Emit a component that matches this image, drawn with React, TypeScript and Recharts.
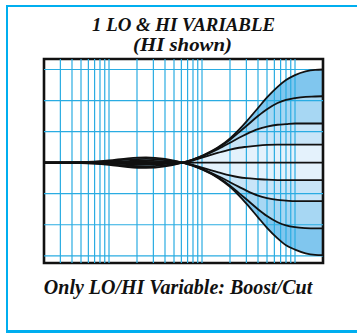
import React from 'react';
import { ComposedChart, Area, Line, XAxis, YAxis, ReferenceLine, ReferenceArea } from 'recharts';

// frequency points (Hz) the curves were read at
const FREQS = [20, 50, 100, 160, 250, 400, 620, 1000, 1500, 2000, 2500, 3000, 4000, 5000, 6500, 8000, 10000, 13000, 16500, 20000];

// response in dB for each knob position
const BOOST_15 = [0, -0.06, -0.35, -0.7, -0.85, -0.6, 0, 1.1, 2.5, 3.9, 5.3, 6.6, 8.8, 10.5, 12.2, 13.3, 14.1, 14.7, 14.95, 15.0];
const BOOST_10 = [0, -0.05, -0.25, -0.5, -0.6, -0.4, 0, 1.05, 2.4, 3.7, 4.9, 5.9, 7.5, 8.6, 9.6, 10.1, 10.4, 10.6, 10.65, 10.7];
const BOOST_6 = [0, -0.02, -0.12, -0.25, -0.32, -0.2, 0, 1.0, 2.2, 3.2, 4.0, 4.6, 5.4, 5.8, 6.1, 6.2, 6.3, 6.3, 6.3, 6.3];
const BOOST_3 = [0, -0.01, -0.05, -0.1, -0.14, -0.08, 0, 0.8, 1.6, 2.1, 2.4, 2.55, 2.75, 2.85, 2.9, 2.9, 2.9, 2.9, 2.9, 2.9];
const FLAT = [0, 0, 0, 0, 0, 0, 0, 0, 0, 0, 0, 0, 0, 0, 0, 0, 0, 0, 0, 0];
const CUT_3 = [0, 0.01, 0.05, 0.1, 0.14, 0.08, 0, -0.8, -1.55, -2.05, -2.35, -2.5, -2.65, -2.75, -2.8, -2.8, -2.8, -2.8, -2.8, -2.8];
const CUT_6 = [0, 0.02, 0.12, 0.25, 0.32, 0.2, 0, -1.0, -2.2, -3.15, -3.9, -4.5, -5.3, -5.7, -6.0, -6.1, -6.2, -6.2, -6.2, -6.2];
const CUT_10 = [0, 0.05, 0.25, 0.5, 0.6, 0.4, 0, -1.05, -2.4, -3.7, -4.9, -5.9, -7.5, -8.6, -9.6, -10.1, -10.4, -10.55, -10.6, -10.6];
const CUT_15 = [0, 0.06, 0.35, 0.7, 0.85, 0.6, 0, -1.1, -2.5, -3.9, -5.3, -6.6, -8.8, -10.5, -12.2, -13.3, -14.0, -14.6, -14.85, -14.9];

const GRID_FREQS = [
  30, 40, 50, 60, 70, 80, 90, 100,
  200, 300, 400, 500, 600, 700, 800, 900, 1000,
  2000, 3000, 4000, 5000, 6000, 7000, 8000, 9000, 10000,
];
const GRID_DB = [-15, -10, -5, 5, 10, 15];
const DECADE_TICKS = [20, 100, 1000, 10000, 20000];

const TITLE = '1 LO & HI VARIABLE';
const SUBTITLE = '(HI shown)';
const CAPTION = 'Only LO/HI Variable: Boost/Cut';

const CURVES = ['b15', 'b10', 'b6', 'b3', 'flat', 'c3', 'c6', 'c10', 'c15'];
// bands between neighbouring curves, outer ones darker
const BANDS = [
  { lo: 'b10', hi: 'b15', color: '#80c6ee' },
  { lo: 'b6', hi: 'b10', color: '#a7d7f3' },
  { lo: 'b3', hi: 'b6', color: '#c8e5f8' },
  { lo: 'flat', hi: 'b3', color: '#e4f2fc' },
  { lo: 'c3', hi: 'flat', color: '#e4f2fc' },
  { lo: 'c6', hi: 'c3', color: '#c8e5f8' },
  { lo: 'c10', hi: 'c6', color: '#a7d7f3' },
  { lo: 'c15', hi: 'c10', color: '#80c6ee' },
];

const GRID_BLUE = '#2aace2';
const FRAME_BLUE = '#00aeef';

const data = FREQS.map((f, i) => ({
  f,
  b15: BOOST_15[i],
  b10: BOOST_10[i],
  b6: BOOST_6[i],
  b3: BOOST_3[i],
  flat: FLAT[i],
  c3: CUT_3[i],
  c6: CUT_6[i],
  c10: CUT_10[i],
  c15: CUT_15[i],
}));

const textStyle: React.CSSProperties = {
  fontFamily: '"Liberation Serif", serif',
  fontWeight: 'bold',
  fontStyle: 'italic',
};

export default function App() {
  return (
    <div style={{ position: 'absolute', left: 0, top: 0, width: 357, height: 333, overflow: 'hidden', background: '#fff' }}>
      <div
        style={{
          position: 'absolute', left: 6, top: 5, width: 360, height: 328,
          borderTop: `2.5px solid ${FRAME_BLUE}`, borderLeft: `2.5px solid ${FRAME_BLUE}`,
          borderBottom: `3px solid ${FRAME_BLUE}`, boxSizing: 'border-box',
        }}
      />
      <div style={{ position: 'absolute', left: 0, top: 0 }}>
        <ComposedChart width={357} height={333} data={data} margin={{ top: 59, right: 34, bottom: 65, left: 41 }}>
          <XAxis
            dataKey="f" type="number" scale="log" domain={[20, 20000]} allowDataOverflow
            ticks={DECADE_TICKS} tick={false} height={5} tickSize={5}
            axisLine={false} tickLine={{ stroke: GRID_BLUE, strokeWidth: 1 }}
          />
          <YAxis
            type="number" domain={[-16.16, 16.69]} allowDataOverflow
            ticks={[-15, -10, -5, 0, 5, 10, 15]} tick={false} width={3} tickSize={3}
            axisLine={false} tickLine={{ stroke: GRID_BLUE, strokeWidth: 1.5 }}
          />
          {BANDS.map((b) => (
            <Area
              key={b.lo + b.hi} type="monotone"
              dataKey={(d: any) => [d[b.lo], d[b.hi]]}
              stroke="none" fill={b.color} fillOpacity={1} isAnimationActive={false}
            />
          ))}
          {GRID_DB.map((v) => (
            <ReferenceLine key={'h' + v} y={v} stroke={GRID_BLUE} strokeWidth={1.2} />
          ))}
          {GRID_FREQS.map((f) => (
            <ReferenceLine key={'v' + f} x={f} stroke={GRID_BLUE} strokeWidth={1.2} />
          ))}
          {CURVES.map((k) => (
            <Line key={k} type="monotone" dataKey={k} stroke="#111" strokeWidth={1.8} dot={false} isAnimationActive={false} />
          ))}
          <ReferenceArea x1={20} x2={20000} y1={-16.16} y2={16.69} fill="none" stroke="#111" strokeWidth={2.6} ifOverflow="visible" />
        </ComposedChart>
      </div>
      <svg width={357} height={333} style={{ position: 'absolute', left: 0, top: 0, pointerEvents: 'none' }}>
        <text x={183.5} y={30.5} textAnchor="middle" fontSize={19} textLength={183} lengthAdjust="spacingAndGlyphs" fill="#111" style={textStyle}>
          {TITLE}
        </text>
        <text x={182.5} y={50.5} textAnchor="middle" fontSize={18.5} textLength={99} lengthAdjust="spacingAndGlyphs" fill="#111" style={textStyle}>
          {SUBTITLE}
        </text>
        <text x={178} y={294} textAnchor="middle" fontSize={20} fill="#111" style={textStyle}>
          {CAPTION}
        </text>
      </svg>
    </div>
  );
}
